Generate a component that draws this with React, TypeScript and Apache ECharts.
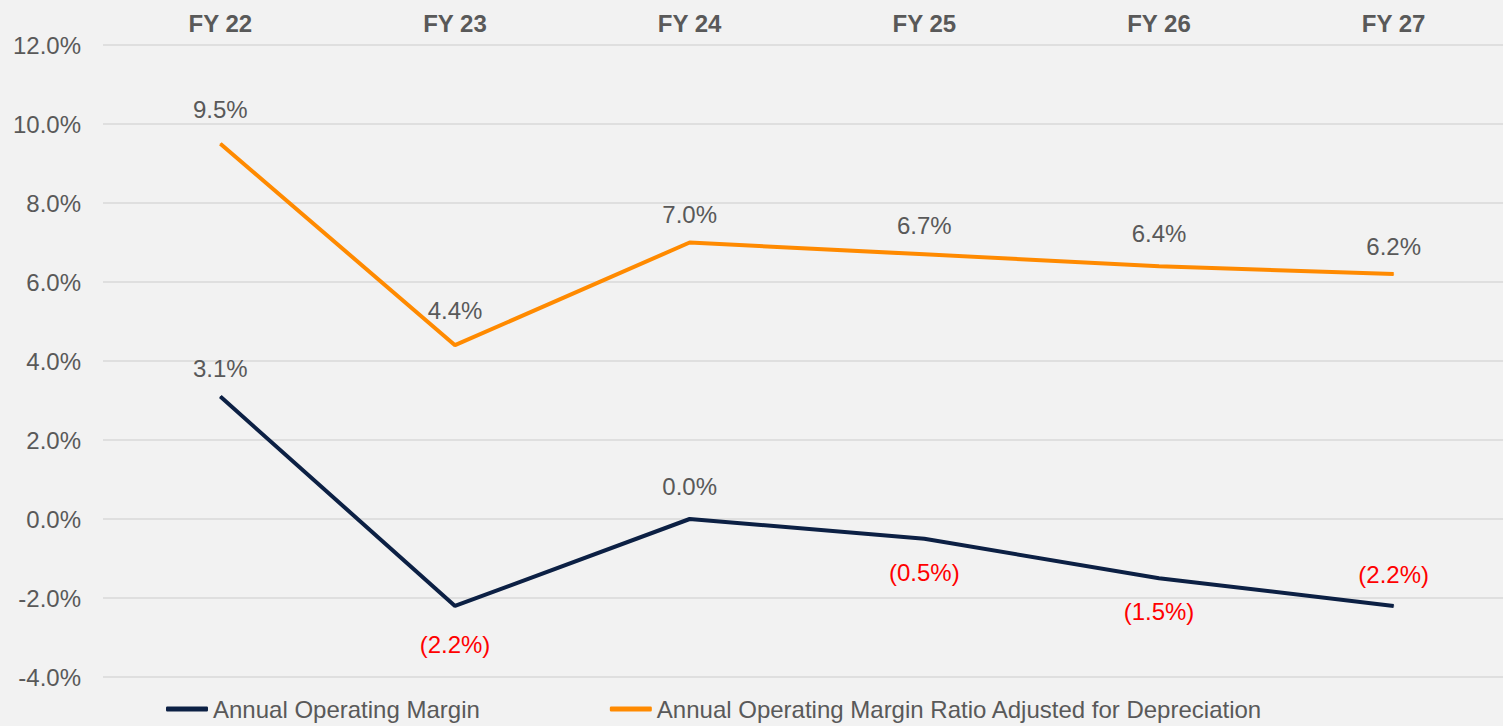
import React, { useEffect, useRef } from "react";
import * as echarts from "echarts";

const categories = ["FY 22", "FY 23", "FY 24", "FY 25", "FY 26", "FY 27"];
const operatingMargin = [3.1, -2.2, 0.0, -0.5, -1.5, -2.2];
const adjustedMargin = [9.5, 4.4, 7.0, 6.7, 6.4, 6.2];
const seriesNames = [
  "Annual Operating Margin",
  "Annual Operating Margin Ratio Adjusted for Depreciation",
];
// label placement (above / below) for each point
const operatingLabelPos = ["top", "bottom", "top", "bottom", "bottom", "top"];
const adjustedLabelPos = ["top", "top", "top", "top", "top", "top"];
const operatingLabelDist = [16, 26, 20, 21, 21, 19];
const adjustedLabelDist = [22, 22, 16, 16, 20, 15];

const FONT = "'Liberation Sans', Arial, sans-serif";
const fmt = (v: number) =>
  v < 0 ? `(${Math.abs(v).toFixed(1)}%)` : `${v.toFixed(1)}%`;

export default function App() {
  const ref = useRef<HTMLDivElement>(null);
  useEffect(() => {
    if (!ref.current) return;
    const chart = echarts.init(ref.current, undefined, { renderer: "svg" });
    const mkData = (vals: number[], pos: string[], dist: number[]) =>
      vals.map((v, i) => ({
        value: v,
        label: {
          show: true,
          position: pos[i],
          distance: dist[i],
          color: v < 0 ? "#ff0000" : "#595959",
          fontSize: 24,
          fontFamily: FONT,
          formatter: () => fmt(v),
        },
      }));
    chart.setOption({
      animation: false,
      backgroundColor: "#f2f2f2",
      textStyle: { fontFamily: FONT },
      grid: { left: 103, right: 0, top: 45, bottom: 49, containLabel: false },
      legend: {
        left: 161,
        bottom: 0,
        itemWidth: 42,
        itemHeight: 5,
        itemGap: 130,
        icon: "roundRect",
        textStyle: { color: "#595959", fontSize: 24, fontFamily: FONT },
        data: seriesNames,
      },
      xAxis: {
        type: "category",
        position: "top",
        data: categories,
        axisLine: { show: false },
        axisTick: { show: false },
        axisLabel: {
          color: "#595959",
          fontSize: 24,
          fontWeight: "bold",
          fontFamily: FONT,
          margin: 10,
        },
      },
      yAxis: {
        type: "value",
        min: -4,
        max: 12,
        interval: 2,
        axisLine: { show: false },
        axisTick: { show: false },
        splitLine: { lineStyle: { color: "#d9d9d9", width: 1.5 } },
        axisLabel: {
          color: "#595959",
          fontSize: 24,
          fontFamily: FONT,
          margin: 22,
          formatter: (v: number) => `${v.toFixed(1)}%`,
        },
      },
      series: [
        {
          name: seriesNames[0],
          type: "line",
          data: mkData(operatingMargin, operatingLabelPos, operatingLabelDist),
          symbol: "circle",
          symbolSize: 1,
          lineStyle: { color: "#0c2044", width: 4 },
          itemStyle: { color: "#0c2044" },
        },
        {
          name: seriesNames[1],
          type: "line",
          data: mkData(adjustedMargin, adjustedLabelPos, adjustedLabelDist),
          symbol: "circle",
          symbolSize: 1,
          lineStyle: { color: "#ff8a00", width: 4 },
          itemStyle: { color: "#ff8a00" },
        },
      ],
    });
    return () => chart.dispose();
  }, []);
  return (
    <div
      ref={ref}
      style={{ position: "fixed", left: 0, top: 0, width: 1511, height: 726 }}
    />
  );
}
